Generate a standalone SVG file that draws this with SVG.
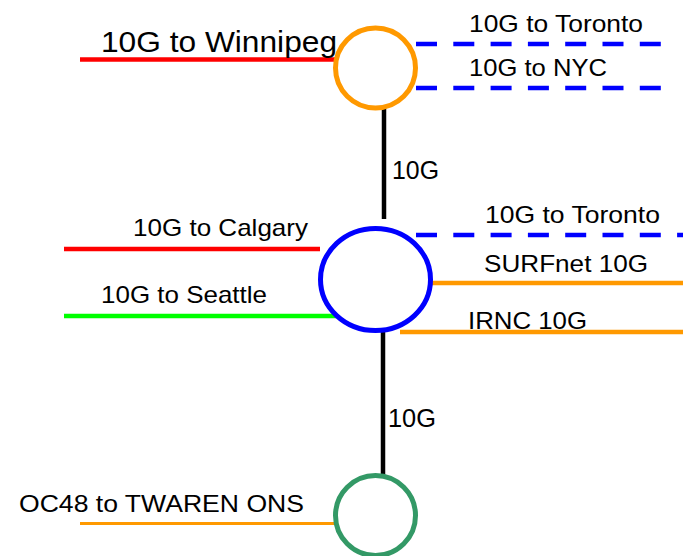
<svg xmlns="http://www.w3.org/2000/svg" width="683" height="556" viewBox="0 0 683 556">
<style>
text{font-family:"Liberation Sans",Arial,sans-serif;fill:#000;}
.t{font-size:24px;}
.big{font-size:29px;}
.lbl{font-size:25px;}
.ln{fill:none;stroke-width:4.5;}
.dash{stroke:#0000FF;stroke-dasharray:21 16.3;}
.red{stroke:#FF0000;}
.grn{stroke:#00FF00;}
.org{stroke:#FF9900;}
.blk{stroke:#000;}
.node{fill:#fff;stroke-width:5;}
</style>
<rect width="683" height="556" fill="#fff"/>
<g id="connectors">
<line class="ln blk" x1="384" y1="106" x2="384" y2="219"/>
<line class="ln blk" x1="383" y1="330" x2="383" y2="476"/>
<line class="ln red" x1="80" y1="59.5" x2="336" y2="59.5"/>
<line class="ln dash" x1="416" y1="44" x2="662" y2="44"/>
<line class="ln dash" x1="416" y1="88" x2="662" y2="88"/>
<line class="ln red" x1="64" y1="249" x2="320" y2="249"/>
<line class="ln grn" x1="64" y1="316" x2="336" y2="316"/>
<line class="ln dash" x1="416" y1="235" x2="683" y2="235"/>
<line class="ln org" x1="432" y1="283" x2="683" y2="283"/>
<line class="ln org" x1="400" y1="332" x2="683" y2="332"/>
<line class="org" stroke-width="3" x1="80" y1="523.5" x2="336" y2="523.5"/>
</g>
<g id="node-winnipeg">
<circle class="node" cx="375.5" cy="68" r="40" stroke="#FF9900"/>
</g>
<g id="node-chicago">
<ellipse class="node" cx="375.5" cy="279.5" rx="55" ry="51" stroke="#0000FF"/>
</g>
<g id="node-twaren">
<circle class="node" cx="375.5" cy="515.5" r="40" stroke="#339966"/>
</g>
<g id="labels">
<text class="big" x="101" y="52" textLength="236" lengthAdjust="spacingAndGlyphs">10G to Winnipeg</text>
<text class="t" x="469" y="32" textLength="174" lengthAdjust="spacingAndGlyphs">10G to Toronto</text>
<text class="t" x="469" y="76" textLength="138" lengthAdjust="spacingAndGlyphs">10G to NYC</text>
<text class="lbl" x="392" y="179" textLength="47" lengthAdjust="spacingAndGlyphs">10G</text>
<text class="t" x="485" y="223" textLength="175" lengthAdjust="spacingAndGlyphs">10G to Toronto</text>
<text class="t" x="133" y="236" textLength="175" lengthAdjust="spacingAndGlyphs">10G to Calgary</text>
<text class="t" x="484" y="272" textLength="164" lengthAdjust="spacingAndGlyphs">SURFnet 10G</text>
<text class="t" x="101" y="303" textLength="166" lengthAdjust="spacingAndGlyphs">10G to Seattle</text>
<text class="t" x="468" y="329" textLength="119" lengthAdjust="spacingAndGlyphs">IRNC 10G</text>
<text class="lbl" x="388" y="427" textLength="48" lengthAdjust="spacingAndGlyphs">10G</text>
<text class="t" x="19" y="512" textLength="285" lengthAdjust="spacingAndGlyphs">OC48 to TWAREN ONS</text>
</g>
</svg>
